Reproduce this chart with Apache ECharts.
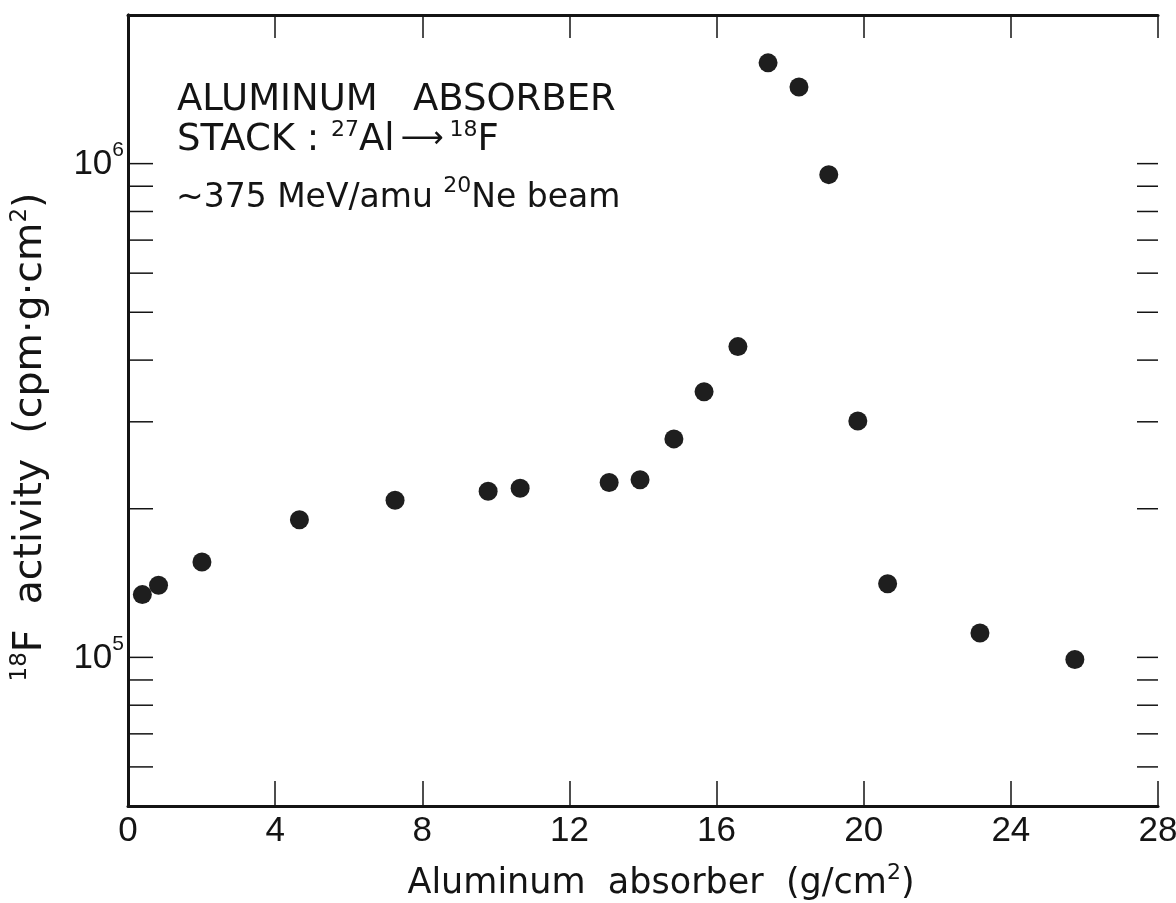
<!DOCTYPE html>
<html>
<head>
<meta charset="utf-8">
<title>18F activity in an aluminum absorber stack</title>
<script src="https://cdn.jsdelivr.net/npm/echarts@6/dist/echarts.min.js"></script>
<style>
  html, body { margin: 0; padding: 0; background: #fff; }
  #chart { width: 1176px; height: 903px; }
</style>
</head>
<body>
<div id="chart"></div>
<script>
// absorber depth, g/cm^2
const depth = [0.39, 0.83, 2.01, 4.66, 7.26, 9.79, 10.66, 13.08, 13.92, 14.84,
               15.66, 16.58, 17.40, 18.24, 19.05, 19.84, 20.65, 23.16, 25.74];
// 18F activity, cpm g cm^2
const activity = [1.34e5, 1.40e5, 1.56e5, 1.90e5, 2.08e5, 2.17e5, 2.20e5, 2.26e5, 2.29e5, 2.77e5,
                  3.45e5, 4.26e5, 1.60e6, 1.43e6, 9.5e5, 3.01e5, 1.41e5, 1.12e5, 0.99e5];
// small tick marks on both y edges
const yTicks = [6e4, 7e4, 8e4, 9e4, 1e5, 2e5, 3e5, 4e5, 5e5, 6e5, 7e5, 8e5, 9e5, 1e6];
// powers of ten that get a label
const yLabelPowers = [5, 6];

const ink = '#141414';
const FONT = 'DejaVu Sans';

// superscript: a tall line box with the small token pinned to its top,
// the normal text pinned to its bottom
function supRich(base, sup, lineH, family) {
    return {
        t: { fontFamily: family, fontSize: base, color: ink, fill: ink, verticalAlign: 'bottom' },
        s: { fontFamily: family, fontSize: sup, color: ink, fill: ink, verticalAlign: 'top', lineHeight: lineH }
    };
}

const chart = echarts.init(document.getElementById('chart'));

const option = {
    backgroundColor: '#fff',
    animation: false,
    grid: { left: 128, right: 18, top: 15, bottom: 97, outerBoundsMode: 'none' },
    xAxis: [
        {
            type: 'value', min: 0, max: 28, interval: 4, position: 'bottom',
            axisLine: { show: true, lineStyle: { color: ink, width: 3 } },
            axisTick: { show: true, inside: true, length: 25, lineStyle: { color: ink, width: 1.5 } },
            axisLabel: { color: ink, fontFamily: 'Liberation Sans', fontSize: 35, margin: 8 },
            splitLine: { show: false },
            name: '{t|Aluminum  absorber  (g/cm}{s|2}{t|)}',
            nameLocation: 'middle', nameGap: 56,
            nameTextStyle: {
                padding: [0, 0, 0, 36],
                rich: supRich(35, 22, 39, FONT)
            }
        },
        {
            type: 'value', min: 0, max: 28, interval: 4, position: 'top',
            axisLine: { show: true, lineStyle: { color: ink, width: 3 } },
            axisTick: { show: true, inside: true, length: 23, lineStyle: { color: ink, width: 1.5 } },
            axisLabel: { show: false },
            splitLine: { show: false }
        }
    ],
    yAxis: [
        {
            type: 'log', logBase: 10, min: 5e4, max: 2e6,
            axisLine: { show: true, lineStyle: { color: ink, width: 3 } },
            axisTick: { show: false },
            splitLine: { show: false },
            axisLabel: {
                margin: 4,
                padding: [0, 0, 6, 0],
                formatter: v => {
                    const p = Math.round(Math.log10(v));
                    if (Math.abs(Math.log10(v) - p) < 1e-6 && yLabelPowers.includes(p)) {
                        return '{t|10}{s|' + p + '}';
                    }
                    return '';
                },
                rich: supRich(35, 21, 42, 'Liberation Sans')
            }
        },
        {
            type: 'log', logBase: 10, min: 5e4, max: 2e6, position: 'right',
            axisLine: { show: true, lineStyle: { color: ink, width: 3 } },
            axisTick: { show: false },
            axisLabel: { show: false },
            splitLine: { show: false }
        }
    ],
    graphic: [
        {
            type: 'text', x: 30, y: 437, rotation: Math.PI / 2,
            style: {
                text: '{s|18}{t|F  activity  (cpm·g·cm}{s|2}{t|)}',
                align: 'center', verticalAlign: 'middle',
                rich: supRich(39.5, 23, 42, FONT)
            }
        },
        {
            type: 'text', x: 177, y: 100,
            style: {
                text: 'ALUMINUM   ABSORBER',
                fontFamily: FONT, fontSize: 37, fill: ink,
                align: 'left', verticalAlign: 'middle'
            }
        },
        {
            type: 'text', x: 177, y: 139,
            style: {
                text: '{t|STACK : }{s|27}{t|Al}{a|\u2009⟶\u2009}{s|18}{t|F}',
                align: 'left', verticalAlign: 'middle',
                rich: Object.assign(supRich(37, 22, 40, FONT), {
                    a: { fontFamily: FONT, fontSize: 30, fill: ink, verticalAlign: 'middle' }
                })
            }
        },
        {
            type: 'text', x: 176, y: 195,
            style: {
                text: '{t|~375 MeV/amu }{s|20}{t|Ne beam}',
                align: 'left', verticalAlign: 'middle',
                rich: supRich(33, 22, 40, FONT)
            }
        }
    ],
    series: [
        {
            type: 'custom',
            silent: true,
            xAxisIndex: 0, yAxisIndex: 0,
            data: yTicks.map(v => [0, v]),
            renderItem: (params, api) => {
                const cs = params.coordSys;
                const y = api.coord([0, api.value(1)])[1];
                const st = { stroke: ink, lineWidth: 1.5 };
                return {
                    type: 'group',
                    children: [
                        { type: 'line', shape: { x1: cs.x, y1: y, x2: cs.x + 25, y2: y }, style: st },
                        { type: 'line', shape: { x1: cs.x + cs.width - 21, y1: y, x2: cs.x + cs.width, y2: y }, style: st }
                    ]
                };
            }
        },
        {
            type: 'scatter',
            xAxisIndex: 0, yAxisIndex: 0,
            symbol: 'circle',
            symbolSize: 19,
            itemStyle: { color: '#1e1e1e', opacity: 1 },
            data: depth.map((d, i) => [d, activity[i]])
        }
    ]
};

chart.setOption(option);
</script>
</body>
</html>
